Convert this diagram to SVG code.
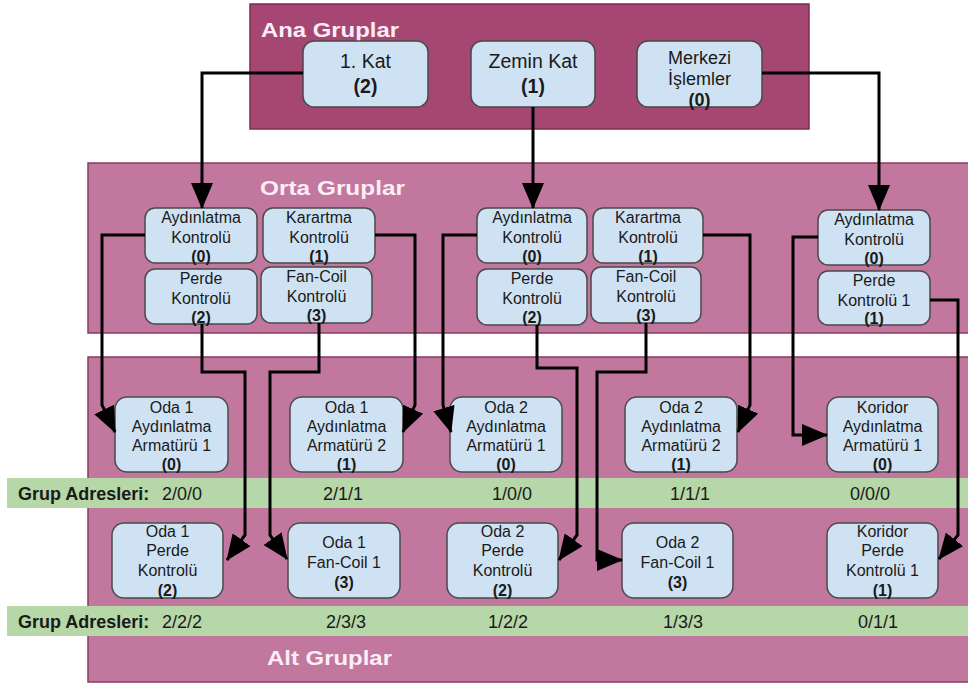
<svg xmlns="http://www.w3.org/2000/svg" width="968" height="684" viewBox="0 0 968 684">
<defs>
<style>
.bg{fill:#ffffff}
.ana{fill:#a64773;stroke:#7d2d52;stroke-width:1.5}
.sub{fill:#c2789e;stroke:#8a3a62;stroke-width:1.5}
.band{fill:#b6d7a8}
.title{font-family:"Liberation Sans",Arial,sans-serif;font-weight:bold;font-size:21px;fill:#fbeef5}
.node rect{fill:#cfe2f3;stroke:#4a4a4a;stroke-width:1.5}
.node text{font-family:"Liberation Sans",Arial,sans-serif;font-size:16px;fill:#1a1a1a;text-anchor:middle}
.top text{font-size:19.5px}
.top text.sm{font-size:18px}
.b{font-weight:bold}
.addr{font-family:"Liberation Sans",Arial,sans-serif;font-size:18px;fill:#1a1a1a}
.mid{text-anchor:middle}
.conn path{fill:none;stroke:#000;stroke-width:3;marker-end:url(#ah)}
</style>
<marker id="ah" markerUnits="userSpaceOnUse" markerWidth="26" markerHeight="22" refX="25" refY="11" orient="auto">
<path d="M0,0 L26,11 L0,22 z" fill="#000"/>
</marker>
</defs>
<rect class="bg" x="0" y="0" width="968" height="684"/>

<g id="containers">
<rect class="ana" x="250" y="4" width="559" height="125"/>
<rect class="sub" x="88" y="163" width="890" height="170"/>
<rect class="sub" x="88" y="357" width="890" height="325"/>
<text class="title" x="261" y="37" textLength="138" lengthAdjust="spacingAndGlyphs">Ana Gruplar</text>
<text class="title" x="260" y="195" textLength="145" lengthAdjust="spacingAndGlyphs">Orta Gruplar</text>
<text class="title" x="267" y="665" textLength="125" lengthAdjust="spacingAndGlyphs">Alt Gruplar</text>
</g>

<g id="bands">
<rect class="band" x="7" y="478" width="961" height="30"/>
<rect class="band" x="7" y="606" width="961" height="30"/>
<text class="addr b" x="18" y="500">Grup Adresleri:</text>
<text class="addr" x="162" y="500">2/0/0</text>
<text class="addr mid" x="343" y="500">2/1/1</text>
<text class="addr mid" x="512" y="500">1/0/0</text>
<text class="addr mid" x="690" y="500">1/1/1</text>
<text class="addr mid" x="870" y="500">0/0/0</text>
<text class="addr b" x="18" y="628">Grup Adresleri:</text>
<text class="addr" x="162" y="628">2/2/2</text>
<text class="addr mid" x="346" y="628">2/3/3</text>
<text class="addr mid" x="508" y="628">1/2/2</text>
<text class="addr mid" x="683" y="628">1/3/3</text>
<text class="addr mid" x="878" y="628">0/1/1</text>
</g>

<!-- Ana gruplar -->
<g id="kat1" class="node top"><rect x="303" y="41" width="125" height="66" rx="11"/><text x="365.5" y="68">1. Kat<tspan class="b" x="365.5" y="93">(2)</tspan></text></g>
<g id="zemin" class="node top"><rect x="471" y="41" width="124" height="66" rx="11"/><text x="533" y="68">Zemin Kat<tspan class="b" x="533" y="93">(1)</tspan></text></g>
<g id="merkezi" class="node top"><rect x="637" y="41" width="125" height="66" rx="11"/><text class="sm" x="699.5" y="64">Merkezi<tspan x="699.5" y="85">İşlemler</tspan><tspan class="b" x="699.5" y="106">(0)</tspan></text></g>

<!-- Orta gruplar G1 -->
<g id="g1-ayd" class="node"><rect x="145" y="208" width="112" height="55" rx="10"/><text x="201" y="223">Aydınlatma<tspan x="201" y="243">Kontrolü</tspan><tspan class="b" x="201" y="262">(0)</tspan></text></g>
<g id="g1-kar" class="node"><rect x="263" y="208" width="112" height="55" rx="10"/><text x="319" y="223">Karartma<tspan x="319" y="243">Kontrolü</tspan><tspan class="b" x="319" y="262">(1)</tspan></text></g>
<g id="g1-per" class="node"><rect x="145" y="269" width="112" height="55" rx="10"/><text x="201" y="284">Perde<tspan x="201" y="304">Kontrolü</tspan><tspan class="b" x="201" y="323">(2)</tspan></text></g>
<g id="g1-fan" class="node"><rect x="261" y="267" width="111" height="56" rx="10"/><text x="316.5" y="282">Fan-Coil<tspan x="316.5" y="302">Kontrolü</tspan><tspan class="b" x="316.5" y="321">(3)</tspan></text></g>

<!-- Orta gruplar G2 -->
<g id="g2-ayd" class="node"><rect x="477" y="208" width="110" height="55" rx="10"/><text x="532" y="223">Aydınlatma<tspan x="532" y="243">Kontrolü</tspan><tspan class="b" x="532" y="262">(0)</tspan></text></g>
<g id="g2-kar" class="node"><rect x="593" y="208" width="110" height="55" rx="10"/><text x="648" y="223">Karartma<tspan x="648" y="243">Kontrolü</tspan><tspan class="b" x="648" y="262">(1)</tspan></text></g>
<g id="g2-per" class="node"><rect x="477" y="269" width="110" height="56" rx="10"/><text x="532" y="284">Perde<tspan x="532" y="304">Kontrolü</tspan><tspan class="b" x="532" y="323">(2)</tspan></text></g>
<g id="g2-fan" class="node"><rect x="591" y="267" width="110" height="56" rx="10"/><text x="646" y="282">Fan-Coil<tspan x="646" y="302">Kontrolü</tspan><tspan class="b" x="646" y="321">(3)</tspan></text></g>

<!-- Orta gruplar G3 -->
<g id="g3-ayd" class="node"><rect x="818" y="210" width="112" height="55" rx="10"/><text x="874" y="225">Aydınlatma<tspan x="874" y="245">Kontrolü</tspan><tspan class="b" x="874" y="264">(0)</tspan></text></g>
<g id="g3-per" class="node"><rect x="818" y="271" width="112" height="54" rx="10"/><text x="874" y="286">Perde<tspan x="874" y="306">Kontrolü 1</tspan><tspan class="b" x="874" y="324">(1)</tspan></text></g>

<!-- Alt gruplar row 1 -->
<g id="oda1-arm1" class="node"><rect x="115" y="397" width="113" height="75" rx="12"/><text x="171.5" y="413">Oda 1<tspan x="171.5" y="432">Aydınlatma</tspan><tspan x="171.5" y="451">Armatürü 1</tspan><tspan class="b" x="171.5" y="470">(0)</tspan></text></g>
<g id="oda1-arm2" class="node"><rect x="290" y="397" width="113" height="75" rx="12"/><text x="346.5" y="413">Oda 1<tspan x="346.5" y="432">Aydınlatma</tspan><tspan x="346.5" y="451">Armatürü 2</tspan><tspan class="b" x="346.5" y="470">(1)</tspan></text></g>
<g id="oda2-arm1" class="node"><rect x="450" y="397" width="112" height="75" rx="12"/><text x="506" y="413">Oda 2<tspan x="506" y="432">Aydınlatma</tspan><tspan x="506" y="451">Armatürü 1</tspan><tspan class="b" x="506" y="470">(0)</tspan></text></g>
<g id="oda2-arm2" class="node"><rect x="625" y="397" width="112" height="75" rx="12"/><text x="681" y="413">Oda 2<tspan x="681" y="432">Aydınlatma</tspan><tspan x="681" y="451">Armatürü 2</tspan><tspan class="b" x="681" y="470">(1)</tspan></text></g>
<g id="kor-arm1" class="node"><rect x="827" y="397" width="111" height="75" rx="12"/><text x="882.5" y="413">Koridor<tspan x="882.5" y="432">Aydınlatma</tspan><tspan x="882.5" y="451">Armatürü 1</tspan><tspan class="b" x="882.5" y="470">(0)</tspan></text></g>

<!-- Alt gruplar row 2 -->
<g id="oda1-per" class="node"><rect x="112" y="523" width="111" height="75" rx="12"/><text x="167.5" y="537">Oda 1<tspan x="167.5" y="556">Perde</tspan><tspan x="167.5" y="576">Kontrolü</tspan><tspan class="b" x="167.5" y="596">(2)</tspan></text></g>
<g id="oda1-fan" class="node"><rect x="288" y="523" width="112" height="75" rx="12"/><text x="344" y="548">Oda 1<tspan x="344" y="568">Fan-Coil 1</tspan><tspan class="b" x="344" y="588">(3)</tspan></text></g>
<g id="oda2-per" class="node"><rect x="447" y="523" width="111" height="75" rx="12"/><text x="502.5" y="537">Oda 2<tspan x="502.5" y="556">Perde</tspan><tspan x="502.5" y="576">Kontrolü</tspan><tspan class="b" x="502.5" y="596">(2)</tspan></text></g>
<g id="oda2-fan" class="node"><rect x="622" y="523" width="111" height="75" rx="12"/><text x="677.5" y="548">Oda 2<tspan x="677.5" y="568">Fan-Coil 1</tspan><tspan class="b" x="677.5" y="588">(3)</tspan></text></g>
<g id="kor-per" class="node"><rect x="827" y="523" width="111" height="75" rx="12"/><text x="882.5" y="537">Koridor<tspan x="882.5" y="556">Perde</tspan><tspan x="882.5" y="576">Kontrolü 1</tspan><tspan class="b" x="882.5" y="596">(1)</tspan></text></g>

<g id="connectors" class="conn">
<path d="M303,73 H202 V208"/>
<path d="M533,107 V208"/>
<path d="M762,73 H879 V210"/>
<path d="M145,235 H102 V405 L115,432"/>
<path d="M375,235 H415 V405 L403,432"/>
<path d="M202,324 V372 H245 V535 L227,560"/>
<path d="M319,323 V372 H270 V535 L287,559"/>
<path d="M477,235 H443 V405 L451,432"/>
<path d="M703,235 H750 V405 L738,432"/>
<path d="M537,325 V368 H577 V535 L559,560"/>
<path d="M646,323 V372 H597 V560 H622"/>
<path d="M818,237 H793 V435 H827"/>
<path d="M930,300 H958 V535 L939,559"/>
</g>
</svg>
